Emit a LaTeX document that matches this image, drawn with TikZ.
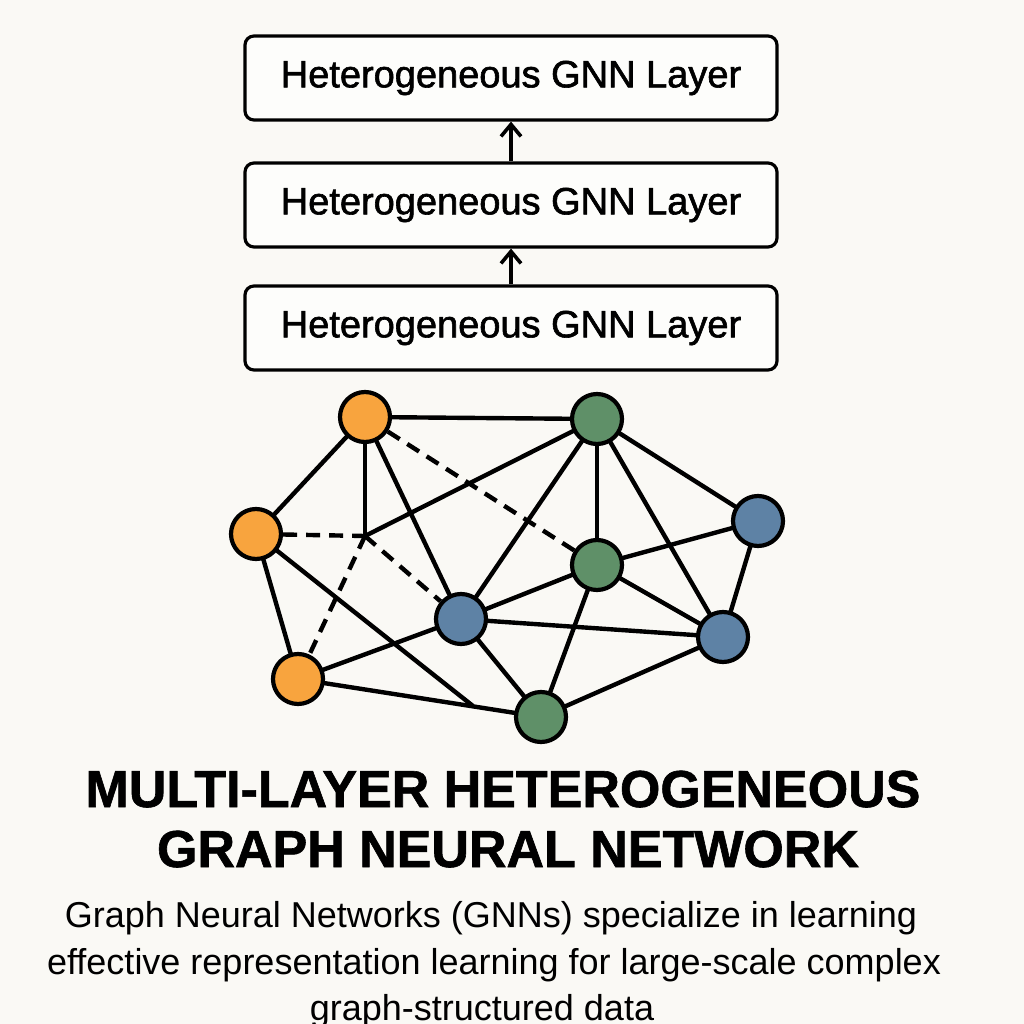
\documentclass[tikz,border=0pt]{standalone}
\usepackage{fontspec}
\setmainfont{Liberation Sans}
\newfontfamily\layerfont{Liberation Sans}[FakeBold=1.6]
\newfontfamily\titlefont{Liberation Sans}[FakeBold=1.2]
\usetikzlibrary{arrows.meta}
\pgfdeclarelayer{edges}
\pgfsetlayers{edges,main}
\definecolor{bgpaper}{HTML}{FAF9F5}
\definecolor{nodeorange}{HTML}{F8A43E}
\definecolor{nodegreen}{HTML}{5F9068}
\definecolor{nodeblue}{HTML}{5E82A5}
\tikzset{
  layerbox/.style={draw, line width=3.2pt, rounded corners=9pt, fill=white!60!bgpaper,
    minimum width=532pt, minimum height=84pt, font=\fontsize{38}{45}\layerfont},
  vertex/.style={circle, draw, line width=4.2pt, minimum size=50pt, inner sep=0pt},
  edge/.style={line width=4.4pt},
  dashedge/.style={line width=4.4pt, dash pattern=on 14pt off 9pt},
  uparrow/.style={line width=3.6pt, -{Straight Barb[length=12pt,width=20pt,line width=3.6pt]}}
}
\begin{document}
\begin{tikzpicture}[x=1pt,y=-1pt]
                \useasboundingbox (0,0) rectangle (1024,1024);
                % layers
                \node[layerbox] (l3) at (511,78) {Heterogeneous GNN Layer};
                \node[layerbox] (l2) at (511,205) {Heterogeneous GNN Layer};
                \node[layerbox] (l1) at (511,328) {Heterogeneous GNN Layer};
                \draw[uparrow] (l1.north) -- (l2.south);
                \draw[uparrow] (l2.north) -- (l3.south);
                % graph
                \coordinate (j) at (365,536);
                \coordinate (k) at (473,706);
                \node[vertex, fill=nodeorange] (o1) at (365,417) {};
                \node[vertex, fill=nodeorange] (o2) at (256,534) {};
                \node[vertex, fill=nodeorange] (o3) at (298,679) {};
                \node[vertex, fill=nodegreen] (g1) at (597,419) {};
                \node[vertex, fill=nodegreen] (g2) at (597,565) {};
                \node[vertex, fill=nodegreen] (g3) at (541,717) {};
                \node[vertex, fill=nodeblue] (b1) at (758,521) {};
                \node[vertex, fill=nodeblue] (b2) at (461,619) {};
                \node[vertex, fill=nodeblue] (b3) at (723,637) {};
                \begin{pgfonlayer}{edges}
                \fill[bgpaper] (0,0) rectangle (1024,1024);
                \draw[edge] (o1.center) -- (g1.center);
                \draw[edge] (o1.center) -- (o2.center);
                \draw[edge] (o1.center) -- (j);
                \draw[edge] (o1.center) -- (b2.center);
                \draw[edge] (g1.center) -- (j);
                \draw[edge] (o2.center) -- (o3.center);
                \draw[edge] (o2.center) -- (k);
                \draw[edge] (o3.center) -- (b2.center);
                \draw[edge] (o3.center) -- (g3.center);
                \draw[edge] (b2.center) -- (g1.center);
                \draw[edge] (b2.center) -- (g2.center);
                \draw[edge] (b2.center) -- (b3.center);
                \draw[edge] (b2.center) -- (g3.center);
                \draw[edge] (g1.center) -- (g2.center);
                \draw[edge] (g1.center) -- (b1.center);
                \draw[edge] (g1.center) -- (b3.center);
                \draw[edge] (g2.center) -- (b1.center);
                \draw[edge] (g2.center) -- (b3.center);
                \draw[edge] (g2.center) -- (g3.center);
                \draw[edge] (b1.center) -- (b3.center);
                \draw[edge] (b3.center) -- (g3.center);
                \draw[dashedge] (o2) -- (j);
                \draw[dashedge] (j) -- (b2);
                \draw[dashedge] (j) -- (o3);
                \draw[dashedge] (o1) -- (g2);
                \end{pgfonlayer}
                % texts
                \node[anchor=base, font=\fontsize{52}{60}\titlefont\bfseries] (title1) at (503,807) {MULTI-LAYER HETEROGENEOUS};
                \node[anchor=base, font=\fontsize{52}{60}\titlefont\bfseries] (title2) at (508,867) {GRAPH NEURAL NETWORK};
                \node[anchor=base, font=\fontsize{36}{44}\selectfont] (desc1) at (491,927) {Graph Neural Networks (GNNs) specialize in learning};
                \node[anchor=base, font=\fontsize{36}{44}\selectfont] (desc2) at (494,974) {effective representation learning for large-scale complex};
                \node[anchor=base, font=\fontsize{36}{44}\selectfont] (desc3) at (482,1020) {graph-structured data};
            \end{tikzpicture}
\end{document}
